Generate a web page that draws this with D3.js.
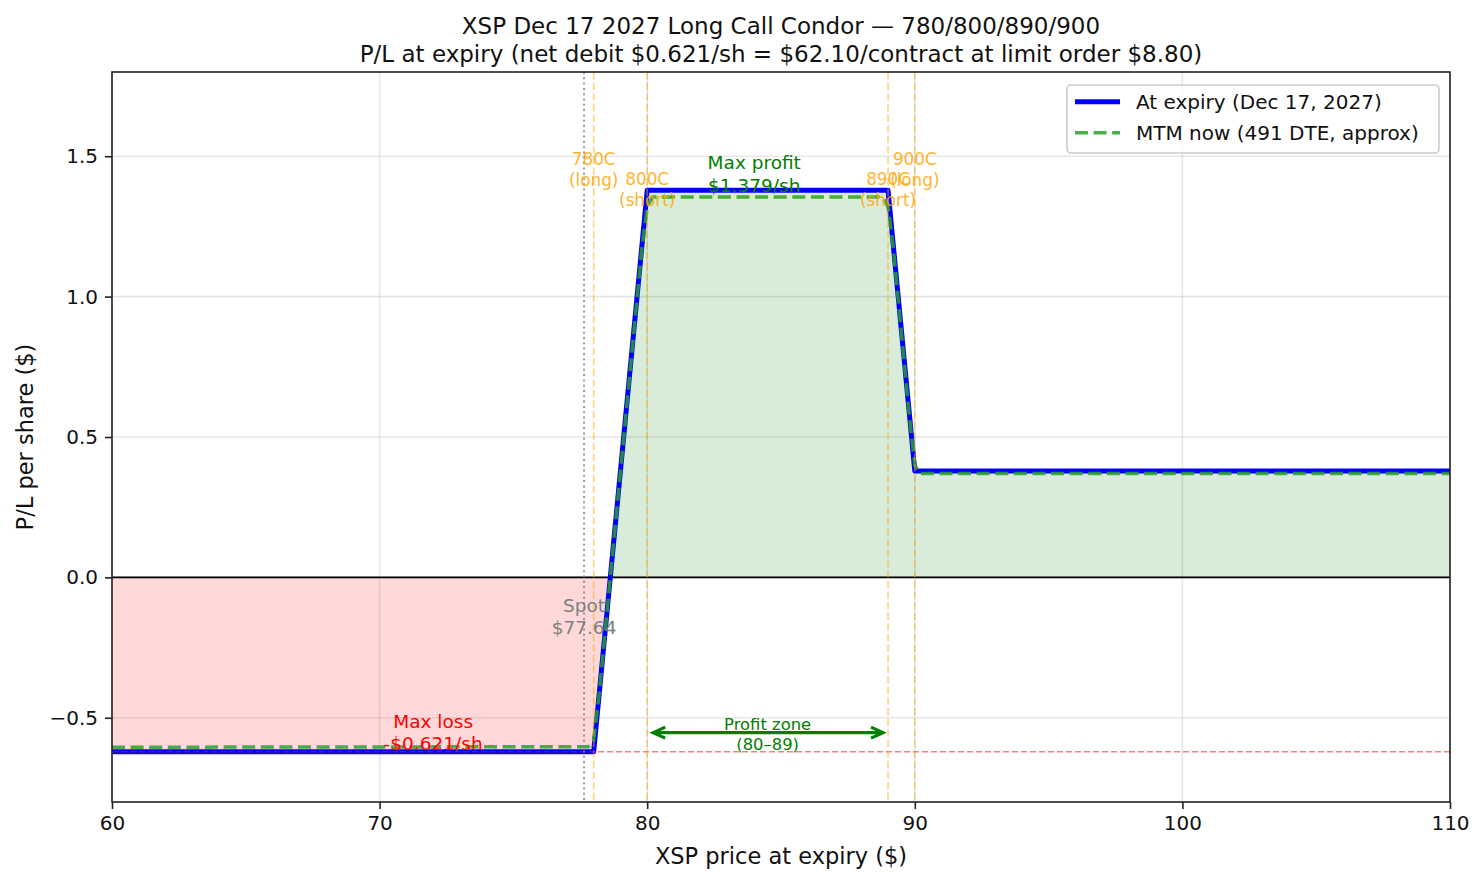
<!DOCTYPE html>
<html>
<head>
<meta charset="utf-8">
<script src="https://cdn.jsdelivr.net/npm/d3@7"></script>
<style>
  html, body { margin: 0; padding: 0; background: #fff; }
  svg { display: block; font-family: "DejaVu Sans", sans-serif; }
</style>
</head>
<body>
<svg id="chart" width="1484" height="884"></svg>
<script>
// ---- Data ----
const expiryX = [60, 78, 80, 89, 90, 110];
const expiryY = [-0.621, -0.621, 1.379, 1.379, 0.379, 0.379];
const mtmX = [60, 77.8, 78.0, 78.2, 79.8, 80.0, 80.2, 88.8, 89.0, 89.2, 89.8, 90.0, 90.2, 110];
const mtmY = [-0.605, -0.603, -0.58, -0.42, 1.17, 1.32, 1.355, 1.355, 1.32, 1.17, 0.57, 0.40, 0.37, 0.37];
const strikes = [78, 80, 89, 90];
const strikeNames = ["780C", "800C", "890C", "900C"];
const strikeLegs = ["(long)", "(short)", "(short)", "(long)"];
const spot = 77.64;
const maxLoss = -0.621;
const profitZone = [80, 89];
const xTicks = [60, 70, 80, 90, 100, 110];
const yTicks = [-0.5, 0.0, 0.5, 1.0, 1.5];
const titleLines = [
  "XSP Dec 17 2027 Long Call Condor \u2014 780/800/890/900",
  "P/L at expiry (net debit $0.621/sh = $62.10/contract at limit order $8.80)"
];
const legendLabels = ["At expiry (Dec 17, 2027)", "MTM now (491 DTE, approx)"];

// ---- Layout ----
const M = { left: 112, right: 1450, top: 72, bottom: 802 };
const svg = d3.select("#chart");
const x = d3.scaleLinear().domain([60, 110]).range([M.left, M.right]);
const y = d3.scaleLinear().domain([-0.8, 1.8]).range([M.bottom, M.top]);

const expiry = expiryX.map((v, i) => [v, expiryY[i]]);
const mtm = mtmX.map((v, i) => [v, mtmY[i]]);

const defs = svg.append("defs");
defs.append("clipPath").attr("id", "plotclip").append("rect")
  .attr("x", M.left).attr("y", M.top).attr("width", M.right - M.left).attr("height", M.bottom - M.top);
defs.append("clipPath").attr("id", "above0").append("rect")
  .attr("x", M.left).attr("y", M.top).attr("width", M.right - M.left).attr("height", y(0) - M.top);
defs.append("clipPath").attr("id", "below0").append("rect")
  .attr("x", M.left).attr("y", y(0)).attr("width", M.right - M.left).attr("height", M.bottom - y(0));

// grid
const grid = svg.append("g");
xTicks.forEach(t => grid.append("line").attr("x1", x(t)).attr("x2", x(t)).attr("y1", M.top).attr("y2", M.bottom)
  .attr("stroke", "#b0b0b0").attr("stroke-opacity", 0.3).attr("stroke-width", 1.6));
yTicks.forEach(t => grid.append("line").attr("x1", M.left).attr("x2", M.right).attr("y1", y(t)).attr("y2", y(t))
  .attr("stroke", "#b0b0b0").attr("stroke-opacity", 0.3).attr("stroke-width", 1.6));

const plot = svg.append("g").attr("clip-path", "url(#plotclip)");

// fills
const area = d3.area().x(d => x(d[0])).y0(y(0)).y1(d => y(d[1]));
plot.append("g").attr("clip-path", "url(#above0)").append("path").datum(expiry).attr("d", area)
  .attr("fill", "green").attr("fill-opacity", 0.15);
plot.append("g").attr("clip-path", "url(#below0)").append("path").datum(expiry).attr("d", area)
  .attr("fill", "red").attr("fill-opacity", 0.15);

// zero line
plot.append("line").attr("x1", M.left).attr("x2", M.right).attr("y1", y(0)).attr("y2", y(0))
  .attr("stroke", "black").attr("stroke-width", 1.6);

const line = d3.line().x(d => x(d[0])).y(d => y(d[1]));
plot.append("path").datum(expiry).attr("d", line).attr("fill", "none")
  .attr("stroke", "#0000ff").attr("stroke-width", 5).attr("stroke-linejoin", "round");
plot.append("path").datum(mtm).attr("d", line).attr("fill", "none")
  .attr("stroke", "#2ca02c").attr("stroke-width", 3.5).attr("stroke-dasharray", "13,5.6").attr("stroke-opacity", 0.85);

// max loss line
plot.append("line").attr("x1", M.left).attr("x2", M.right).attr("y1", y(maxLoss)).attr("y2", y(maxLoss))
  .attr("stroke", "red").attr("stroke-opacity", 0.5).attr("stroke-width", 1.6).attr("stroke-dasharray", "6,3");

// strike lines
strikes.forEach(s => plot.append("line").attr("x1", x(s)).attr("x2", x(s)).attr("y1", M.top).attr("y2", M.bottom)
  .attr("stroke", "orange").attr("stroke-opacity", 0.5).attr("stroke-width", 1.6).attr("stroke-dasharray", "7.4,3.2"));

// spot line
plot.append("line").attr("x1", x(spot)).attr("x2", x(spot)).attr("y1", M.top).attr("y2", M.bottom)
  .attr("stroke", "gray").attr("stroke-opacity", 0.8).attr("stroke-width", 2).attr("stroke-dasharray", "2,3.3");

// ---- annotations ----
function twoLine(g, cx, by, l1, l2, size, gap, color, opacity) {
  const t = g.append("text").attr("text-anchor", "middle").attr("font-size", size).attr("fill", color)
    .attr("fill-opacity", opacity);
  t.append("tspan").attr("x", cx).attr("y", by).text(l1);
  t.append("tspan").attr("x", cx).attr("y", by + gap).text(l2);
}
const ann = svg.append("g");
strikes.forEach((s, i) => {
  const long = strikeLegs[i] === "(long)";
  twoLine(ann, x(s), long ? 165 : 185, strikeNames[i], strikeLegs[i], 16.8, 20.5, "orange", 0.85);
});
twoLine(ann, x(84.0), 169.3, "Max profit", "$1.379/sh", 18.5, 22.4, "green", 1);
twoLine(ann, x(72), 728.3, "Max loss", "-$0.621/sh", 18.5, 22, "red", 1);
twoLine(ann, x(spot), 611.7, "Spot", "$" + spot.toFixed(2), 18.5, 22, "gray", 1);
twoLine(ann, x(84.5), 730, "Profit zone", "(80\u201389)", 16.4, 20, "green", 1);

// double arrow
const ay = y(-0.553), ax1 = x(profitZone[0]) + 6, ax2 = x(profitZone[1]) - 5;
ann.append("line").attr("x1", ax1 + 1).attr("x2", ax2 - 1).attr("y1", ay).attr("y2", ay)
  .attr("stroke", "green").attr("stroke-width", 3.2);
ann.append("path").attr("d", `M${ax1 + 12},${ay - 5.5} L${ax1},${ay} L${ax1 + 12},${ay + 5.5}`)
  .attr("fill", "none").attr("stroke", "green").attr("stroke-width", 3.2).attr("stroke-linejoin", "miter");
ann.append("path").attr("d", `M${ax2 - 12},${ay - 5.5} L${ax2},${ay} L${ax2 - 12},${ay + 5.5}`)
  .attr("fill", "none").attr("stroke", "green").attr("stroke-width", 3.2).attr("stroke-linejoin", "miter");

// ---- axes ----
const xAxis = svg.append("g").attr("transform", `translate(0,${M.bottom})`)
  .call(d3.axisBottom(x).tickValues(xTicks).tickSize(7).tickPadding(7).tickFormat(d3.format("d")));
const yAxis = svg.append("g").attr("transform", `translate(${M.left},0)`)
  .call(d3.axisLeft(y).tickValues(yTicks).tickSize(7).tickPadding(7)
    .tickFormat(d => d3.format(".1f")(d).replace("-", "\u2212")));
[xAxis, yAxis].forEach(a => {
  a.select(".domain").remove();
  a.selectAll(".tick line").attr("stroke", "#222").attr("stroke-width", 1.6);
  a.selectAll(".tick text").attr("font-size", 20).attr("fill", "#111").attr("font-family", "DejaVu Sans");
});
xAxis.selectAll(".tick text").attr("dy", "0.71em");

// spines
svg.append("rect").attr("x", M.left).attr("y", M.top).attr("width", M.right - M.left).attr("height", M.bottom - M.top)
  .attr("fill", "none").attr("stroke", "#222").attr("stroke-width", 1.6);

// labels
svg.append("text").attr("x", (M.left + M.right) / 2).attr("y", 864).attr("text-anchor", "middle")
  .attr("font-size", 22.5).attr("fill", "#111").text("XSP price at expiry ($)");
svg.append("text").attr("transform", `translate(33,${(M.top + M.bottom) / 2}) rotate(-90)`)
  .attr("text-anchor", "middle").attr("font-size", 22.5).attr("fill", "#111").text("P/L per share ($)");

// title
titleLines.forEach((t, i) => svg.append("text").attr("x", (M.left + M.right) / 2).attr("y", 34.3 + i * 28)
  .attr("text-anchor", "middle").attr("font-size", 23).attr("fill", "#111").text(t));

// legend
const lg = svg.append("g");
lg.append("rect").attr("x", M.right - 383).attr("y", M.top + 13).attr("width", 372).attr("height", 68).attr("rx", 4)
  .attr("fill", "white").attr("fill-opacity", 0.8).attr("stroke", "#cccccc").attr("stroke-width", 1.6);
const lx1 = M.right - 375, lx2 = M.right - 330, ltx = M.right - 314;
[[101.7, "#0000ff", 5, null], [132.7, "#2ca02c", 3.5, "13,5.6"]].forEach((it, i) => {
  const l = lg.append("line").attr("x1", lx1).attr("x2", lx2).attr("y1", it[0]).attr("y2", it[0])
    .attr("stroke", it[1]).attr("stroke-width", it[2]);
  if (it[3]) l.attr("stroke-dasharray", it[3]).attr("stroke-opacity", 0.85);
  lg.append("text").attr("x", ltx).attr("y", it[0] + 7.3).attr("font-size", 20).attr("fill", "#111").text(legendLabels[i]);
});
</script>
</body>
</html>
